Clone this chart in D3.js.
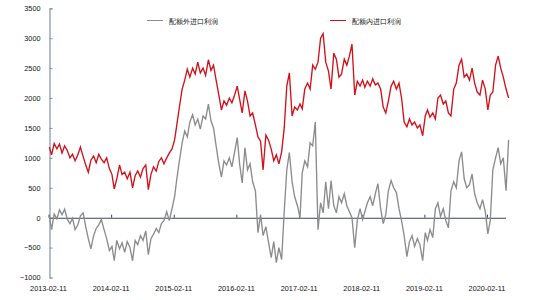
<!DOCTYPE html>
<html>
<head>
<meta charset="utf-8">
<script src="https://cdn.jsdelivr.net/npm/d3@7"></script>
<style>
  body { margin: 0; background: #fff; }
  text { font-family: "Liberation Sans", Arial, sans-serif; }
</style>
</head>
<body>
<div id="chart"></div>
<script>
// semi-monthly readings, first one 2013-02-16, then 1st and 16th of every month up to 2020-06-16
const firstMonth = '2013-02';
const quotaIn = [
  // 2013
  1180, 1050, 1240, 1150, 1230, 1080, 1200, 1120, 1000, 1060, 950, 1050, 1180, 1020, 880, 760, 960, 1030, 920, 1060, 980,
  // 2014
  920, 1000, 820, 720, 480, 650, 880, 720, 760, 650, 760, 500, 700, 780, 680, 820, 880, 470, 720, 850, 780, 940, 1000, 900,
  // 2015
  1000, 1080, 1150, 1300, 1550, 1850, 2150, 2300, 2480, 2350, 2500, 2400, 2600, 2420, 2500, 2380, 2640, 2460, 2550, 2300, 2050, 1800, 1950, 1880,
  // 2016
  2000, 1920, 2050, 2200, 1980, 1750, 2120, 1950, 1700, 1750, 1550, 1350, 1280, 800, 1380, 1300, 1150, 950, 1050, 900, 1100, 1500, 2200, 2420,
  // 2017
  1700, 1850, 1800, 1900, 1820, 2150, 2250, 2150, 2550, 2480, 2600, 3000, 3075, 2600, 2450, 2150, 2750, 2650, 2350, 2400, 2650, 2550, 2700, 2900,
  // 2018
  2050, 2280, 2200, 2300, 2180, 2280, 2200, 2320, 2220, 2250, 2150, 1850, 1750, 1950, 2200, 2280, 2150, 2250, 2000, 1600, 1520, 1650, 1550, 1600,
  // 2019
  1500, 1550, 1370, 1700, 1800, 1680, 1750, 1650, 2000, 2050, 1900, 1950, 1750, 1700, 2150, 2250, 2550, 2650, 2350, 2400, 2300, 2500, 2250, 2100,
  // 2020
  2050, 2300, 2150, 1800, 2050, 2100, 2550, 2700, 2500, 2350, 2150, 2000
];
const quotaOut = [
  // 2013
  20, -200, 60, -20, 130, 50, 140, -30, -100, -10, -200, -120, 30, 80, -150, -350, -520, -300, -180, -120, -30,
  // 2014
  -200, -350, -550, -480, -720, -380, -520, -420, -580, -400, -500, -720, -380, -450, -300, -380, -220, -620, -350, -280, -180, -250, -100, -50,
  // 2015
  100, -50, 150, 350, 650, 950, 1250, 1450, 1350, 1600, 1720, 1550, 1650, 1480, 1700, 1650, 1900, 1620, 1500, 1200, 900, 680, 950, 880,
  // 2016
  1000, 850, 1100, 1340, 900, 580, 1170, 800, 900, 600, 450, -250, 50, -300, -150, -400, -670, -400, -750, -500, -700, 100, 800, 1090,
  // 2017
  600, 350, 200, 0, 750, 950, 850, 1250, 1200, 1600, -200, 250, 80, 600, 150, 620, 200, 80, 350, 250, 400, 200, 100, 0,
  // 2018
  -500, -50, 150, -30, 100, 250, 350, 200, 400, 570, 150, -100, 50, 450, 620, 500, 420, 150, -50, -300, -650, -400, -300, -480,
  // 2019
  -350, -450, -720, -250, -380, -200, -330, 150, 250, 20, 150, -50, -170, 450, 600, 500, 950, 1100, 650, 500, 550, 730, 400, 250,
  // 2020
  150, 300, 100, -270, -50, 800, 1000, 1170, 900, 1000, 450, 1300
];
const yTicks = [-1000, -500, 0, 500, 1000, 1500, 2000, 2500, 3000, 3500];
const xTickLabels = ['2013-02-11', '2014-02-11', '2015-02-11', '2016-02-11', '2017-02-11', '2018-02-11', '2019-02-11', '2020-02-11'];
const seriesNames = ['配额外进口利润', '配额内进口利润'];

const width = 550;
const height = 300;
const parseDay = d3.timeParse('%Y-%m-%d');

// dates: 16th of the first month, then 1st / 16th alternately
const start = d3.timeParse('%Y-%m')(firstMonth);
const dates = quotaIn.map((v, i) => {
  const m = d3.timeMonth.offset(start, Math.floor((i + 1) / 2));
  return i % 2 === 0 ? d3.timeDay.offset(m, 15) : m;
});

const x = d3.scaleTime()
  .domain([parseDay(xTickLabels[0]), parseDay(xTickLabels[7])])
  .range([48.5, 487]);
const y = d3.scaleLinear().domain([-1000, 3500]).range([277.5, 8.3]);

const svg = d3.select('#chart').append('svg')
  .attr('width', width).attr('height', height);

// y axis
const yAxis = svg.append('g')
  .attr('transform', 'translate(49.5,0)')
  .call(d3.axisRight(y).tickValues(yTicks).tickSize(3).tickFormat(d3.format('d')));
yAxis.select('.domain').attr('stroke', '#8593a6').attr('stroke-width', 1.2);
yAxis.selectAll('.tick line').attr('stroke', '#8593a6');
yAxis.selectAll('.tick text')
  .attr('x', -9).attr('text-anchor', 'end')
  .attr('font-size', 7.3).attr('fill', '#111')
  .attr('font-family', '"Liberation Sans", Arial, sans-serif');

// zero line with year ticks
const zeroAxis = svg.append('g')
  .attr('transform', `translate(0,${y(0)})`)
  .call(d3.axisTop(x).tickValues(xTickLabels.map(parseDay)).tickSize(3).tickSizeOuter(0).tickFormat(''));
zeroAxis.select('.domain').attr('d', 'M49.5,0.5H506')
  .attr('stroke', '#3b4656').attr('stroke-width', 1.1);
zeroAxis.selectAll('.tick line').attr('stroke', '#3b4656');

// bottom date labels
svg.append('g').selectAll('text')
  .data(xTickLabels)
  .enter()
  .append('text')
  .attr('x', d => x(parseDay(d)))
  .attr('y', 291)
  .attr('text-anchor', 'middle')
  .attr('font-size', 7.3)
  .attr('fill', '#111')
  .text(d => d);

const line = d3.line()
  .x((d, i) => x(dates[i]))
  .y(d => y(d));

svg.append('path')
  .datum(quotaOut)
  .attr('fill', 'none')
  .attr('stroke', '#8c8c8c')
  .attr('stroke-width', 1.35)
  .attr('d', line);

svg.append('path')
  .datum(quotaIn)
  .attr('fill', 'none')
  .attr('stroke', '#d2111b')
  .attr('stroke-width', 1.35)
  .attr('d', line);

// legend
const legend = [
  {name: seriesNames[0], color: '#8c8c8c', x: 147},
  {name: seriesNames[1], color: '#d2111b', x: 330}
];
const lg = svg.append('g').selectAll('g')
  .data(legend)
  .enter()
  .append('g');
lg.append('line')
  .attr('x1', d => d.x).attr('x2', d => d.x + 16)
  .attr('y1', 20.5).attr('y2', 20.5)
  .attr('stroke', d => d.color).attr('stroke-width', 1);
lg.append('text')
  .attr('x', d => d.x + 22).attr('y', 23.5)
  .attr('font-size', 7.4)
  .attr('font-family', '"Noto Sans CJK SC", sans-serif')
  .attr('fill', '#111')
  .text(d => d.name);
</script>
</body>
</html>
